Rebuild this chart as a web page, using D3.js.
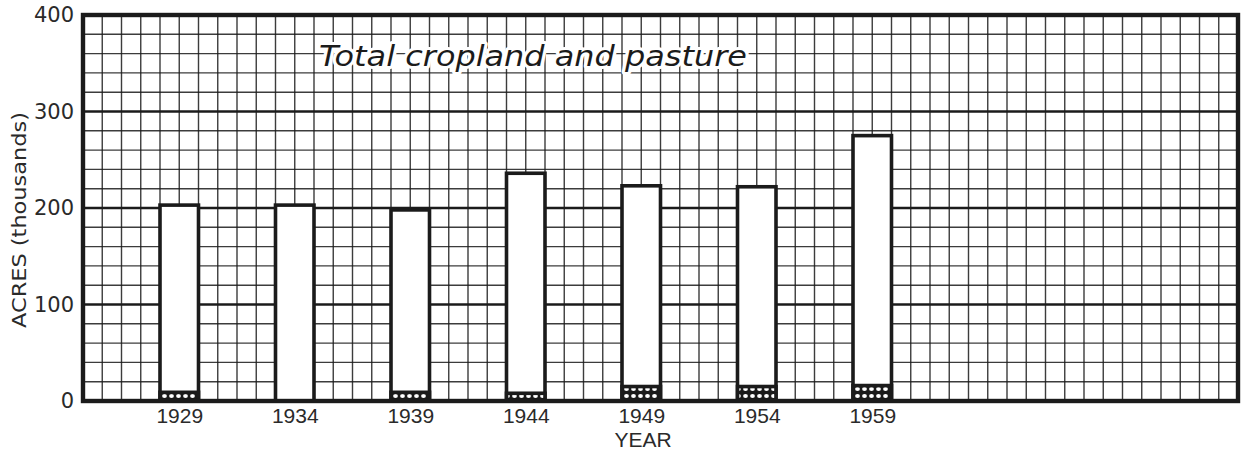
<!DOCTYPE html>
<html>
<head>
<meta charset="utf-8">
<script src="https://cdn.jsdelivr.net/npm/d3@7"></script>
<style>
  html, body { margin: 0; padding: 0; background: #fff; }
  svg { display: block; }
</style>
</head>
<body>
<script>
// Census years and acreage (thousands of acres)
const years = [1929, 1934, 1939, 1944, 1949, 1954, 1959];
const total = [203, 203, 198, 236, 223, 222, 275];
const stippled = [9, 0, 9, 8, 15, 15, 16];
const yTicks = [0, 100, 200, 300, 400];

const W = 1249, H = 453;
const plotLeft = 83, plotRight = 1238, plotTop = 15, plotBottom = 401;

// grid: 60 square columns across, 20-unit rows up
const nCols = 60;
const colsPerYear = 1.2;
const firstCol = 5; // column centre of the first census year
const yearStart = years[0] - firstCol / colsPerYear;
const yearEnd = yearStart + nCols / colsPerYear;

const x = d3.scaleLinear().domain([yearStart, yearEnd]).range([plotLeft, plotRight]);
const y = d3.scaleLinear().domain([0, 400]).range([plotBottom, plotTop]);
const halfBar = 1 / colsPerYear;

const svg = d3.select("body").append("svg").attr("width", W).attr("height", H);

const defs = svg.append("defs");
const pat = defs.append("pattern")
  .attr("id", "stipple").attr("patternUnits", "userSpaceOnUse")
  .attr("width", 7).attr("height", 7);
pat.append("rect").attr("width", 7).attr("height", 7).attr("fill", "#1a1a1a");
pat.append("ellipse").attr("cx", 3.5).attr("cy", 4).attr("rx", 2.4).attr("ry", 2)
  .attr("fill", "#fff");

const ink = "#1b1b1b";

// minor grid
const g = svg.append("g");
const colYears = d3.range(1, nCols).map(k => yearStart + k / colsPerYear);
g.selectAll("line.v").data(colYears).join("line")
  .attr("x1", d => x(d)).attr("x2", d => x(d))
  .attr("y1", plotTop).attr("y2", plotBottom)
  .attr("stroke", ink).attr("stroke-width", 1.4).attr("opacity", 0.85);
const rows = d3.range(20, 400, 20).filter(v => v % 100 !== 0);
g.selectAll("line.h").data(rows).join("line")
  .attr("x1", plotLeft).attr("x2", plotRight)
  .attr("y1", d => y(d)).attr("y2", d => y(d))
  .attr("stroke", ink).attr("stroke-width", 1.4).attr("opacity", 0.85);
// major rows
g.selectAll("line.m").data([100, 200, 300]).join("line")
  .attr("x1", plotLeft).attr("x2", plotRight)
  .attr("y1", d => y(d)).attr("y2", d => y(d))
  .attr("stroke", ink).attr("stroke-width", 2.6);

// title with white halo over the grid
svg.append("text")
  .attr("x", 319).attr("y", 66)
  .attr("font-family", "DejaVu Sans").attr("font-style", "italic")
  .attr("font-size", 29)
  .attr("textLength", 428).attr("lengthAdjust", "spacingAndGlyphs")
  .attr("fill", ink)
  .attr("stroke", "#fff").attr("stroke-width", 6)
  .attr("stroke-linejoin", "round")
  .attr("paint-order", "stroke")
  .text("Total cropland and pasture");

// bars
const data = years.map((yr, i) => ({ yr, total: total[i], low: stippled[i] }));
const bars = svg.append("g");
bars.selectAll("rect.bar").data(data).join("rect")
  .attr("x", d => x(d.yr - halfBar))
  .attr("width", d => x(d.yr + halfBar) - x(d.yr - halfBar))
  .attr("y", d => y(d.total))
  .attr("height", d => y(0) - y(d.total))
  .attr("fill", "#fff").attr("stroke", ink).attr("stroke-width", 3.6);
bars.selectAll("rect.low").data(data.filter(d => d.low > 0)).join("rect")
  .attr("x", d => x(d.yr - halfBar))
  .attr("width", d => x(d.yr + halfBar) - x(d.yr - halfBar))
  .attr("y", d => y(d.low))
  .attr("height", d => y(0) - y(d.low))
  .attr("fill", "url(#stipple)").attr("stroke", ink).attr("stroke-width", 3.6);

// frame
svg.append("rect")
  .attr("x", plotLeft).attr("y", plotTop)
  .attr("width", plotRight - plotLeft).attr("height", plotBottom - plotTop)
  .attr("fill", "none").attr("stroke", ink).attr("stroke-width", 4.4);

// axes
const yAxis = svg.append("g").attr("transform", `translate(${plotLeft},0)`)
  .call(d3.axisLeft(y).tickValues(yTicks).tickSize(0).tickPadding(9));
yAxis.select(".domain").remove();
yAxis.selectAll("text")
  .attr("font-family", "DejaVu Sans").attr("font-size", 21).attr("fill", "#2a2a2a");

const xAxis = svg.append("g").attr("transform", `translate(0,${plotBottom})`)
  .call(d3.axisBottom(x).tickValues(years).tickFormat(d3.format("d")).tickSize(0).tickPadding(7));
xAxis.select(".domain").remove();
xAxis.selectAll("text")
  .attr("font-family", "Liberation Sans").attr("font-size", 21).attr("fill", "#2a2a2a");

svg.append("text")
  .attr("x", 643).attr("y", 447)
  .attr("text-anchor", "middle")
  .attr("font-family", "Liberation Sans").attr("font-size", 21).attr("fill", "#2a2a2a")
  .text("YEAR");

svg.append("text")
  .attr("transform", "translate(26,220) rotate(-90)")
  .attr("text-anchor", "middle")
  .attr("font-family", "DejaVu Sans").attr("font-size", 19)
  .attr("textLength", 216).attr("lengthAdjust", "spacingAndGlyphs")
  .attr("fill", "#2a2a2a")
  .text("ACRES (thousands)");
</script>
</body>
</html>
